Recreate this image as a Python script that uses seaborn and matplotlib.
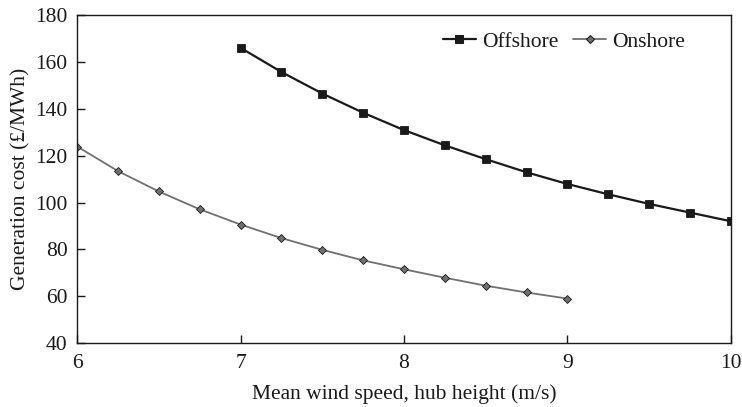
import numpy as np
import pandas as pd
import seaborn as sns
import matplotlib.pyplot as plt

# Wind speeds (m/s) and generation costs (GBP/MWh)
offshore_speed = [7.0, 7.25, 7.5, 7.75, 8.0, 8.25, 8.5, 8.75, 9.0, 9.25, 9.5, 9.75, 10.0]
offshore_cost = [166.0, 155.7, 146.5, 138.3, 130.9, 124.4, 118.5, 112.9, 107.9, 103.5, 99.4, 95.7, 92.0]

onshore_speed = [6.0, 6.25, 6.5, 6.75, 7.0, 7.25, 7.5, 7.75, 8.0, 8.25, 8.5, 8.75, 9.0]
onshore_cost = [123.9, 113.4, 104.7, 97.1, 90.6, 84.8, 79.8, 75.3, 71.5, 67.9, 64.5, 61.6, 59.0]

x_ticks = [6, 7, 8, 9, 10]
y_ticks = [40, 60, 80, 100, 120, 140, 160, 180]

df = pd.concat([
    pd.DataFrame({"speed": offshore_speed, "cost": offshore_cost, "site": "Offshore"}),
    pd.DataFrame({"speed": onshore_speed, "cost": onshore_cost, "site": "Onshore"}),
], ignore_index=True)

sns.set_theme(style="ticks")
plt.rcParams['font.family'] = ['Liberation Serif', 'DejaVu Serif']

fs = 15.5
widths = [1.6, 1.3]
sizes = [5.6, 4.2]

fig = plt.figure(figsize=(7.42, 4.07), dpi=100)
ax = fig.add_axes([0.104, 0.157, 0.881, 0.806])

sns.lineplot(data=df, x="speed", y="cost", hue="site", style="site",
             palette={"Offshore": "#1a1a1a", "Onshore": "#707070"},
             markers={"Offshore": "s", "Onshore": "D"}, dashes=False,
             markeredgecolor="#1a1a1a", ax=ax)

# line widths and marker sizes per series
for line, lw, ms in zip(ax.lines[:2], widths, sizes):
    line.set_linewidth(lw)
    line.set_markersize(ms)
    line.set_markeredgewidth(0.6)

ax.set_xlim(6, 10)
ax.set_ylim(40, 180)
ax.set_xticks(x_ticks)
ax.set_yticks(y_ticks)
ax.tick_params(direction="in", length=6, width=1, labelsize=fs, colors="#1a1a1a")
ax.tick_params(axis="x", pad=8)
ax.tick_params(axis="y", pad=7)
for sp in ax.spines.values():
    sp.set_linewidth(1.0)
    sp.set_color("#1a1a1a")

ax.set_xlabel("Mean wind speed, hub height (m/s)", fontsize=fs, labelpad=8, color="#1a1a1a")
ax.set_ylabel("Generation cost (£/MWh)", fontsize=fs, labelpad=3, color="#1a1a1a")

handles, labels = ax.get_legend_handles_labels()
leg = ax.legend(handles, labels, loc="upper right", frameon=False, ncol=2, fontsize=fs,
                handlelength=1.5, handletextpad=0.3, columnspacing=0.7,
                bbox_to_anchor=(0.953, 0.995), borderaxespad=0.3)
for h, lw, ms in zip(leg.legend_handles, widths, sizes):
    h.set_linewidth(lw)
    h.set_markersize(ms)
for t in leg.get_texts():
    t.set_color("#1a1a1a")

fig.savefig("out.png", dpi=100)
